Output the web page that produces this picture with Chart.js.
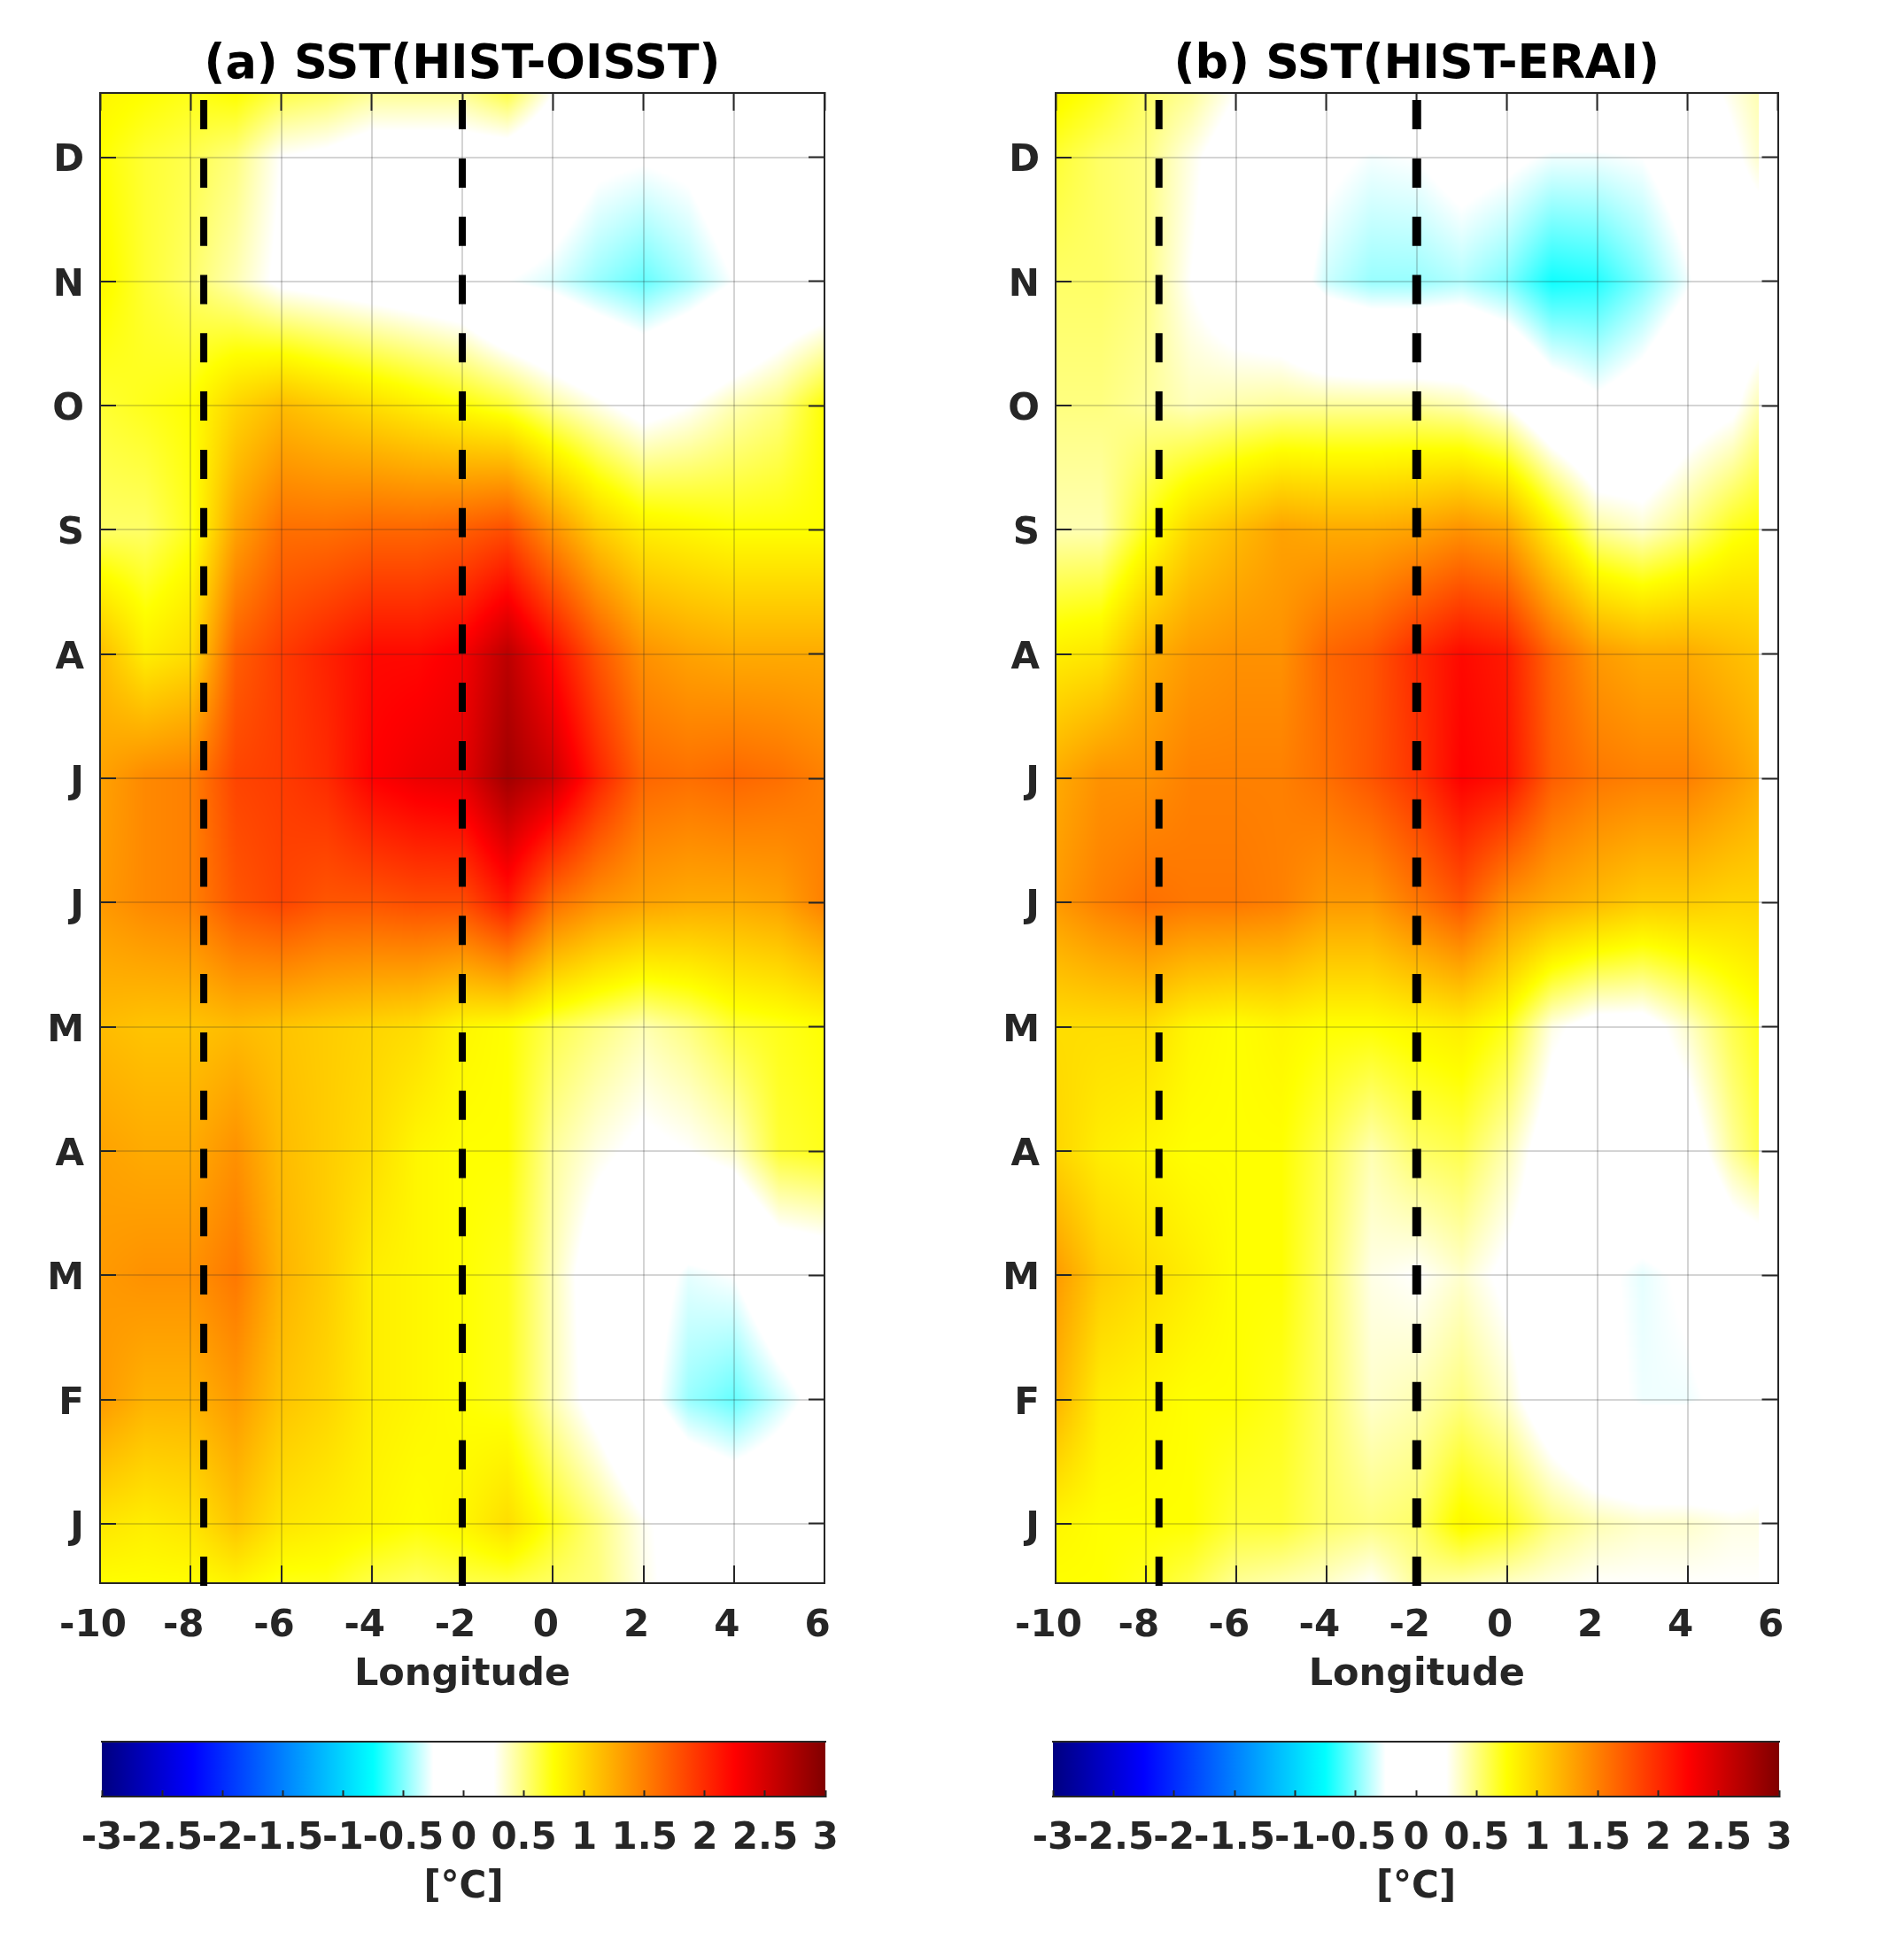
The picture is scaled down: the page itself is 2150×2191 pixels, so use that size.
<!DOCTYPE html>
<html>
<head>
<meta charset="utf-8">
<title>SST bias</title>
<script src="https://cdn.jsdelivr.net/npm/chart.js@4"></script>
<style>
  html, body { margin: 0; background: #fff; }
  #page { position: relative; width: 2150px; height: 2191px; overflow: hidden; }
  canvas { position: absolute; }
</style>
</head>
<body>
<div id="page">
  <canvas id="heatA" width="1075" height="1950" style="left:0;top:0"></canvas>
  <canvas id="heatB" width="1075" height="1950" style="left:1075px;top:0"></canvas>
  <canvas id="barA" width="1075" height="241" style="left:0;top:1950px"></canvas>
  <canvas id="barB" width="1075" height="241" style="left:1075px;top:1950px"></canvas>
</div>
<script>
const lonTicks = [-10, -8, -6, -4, -2, 0, 2, 4, 6];
const monthTicks = [1, 2, 3, 4, 5, 6, 7, 8, 9, 10, 11, 12];
const monthLabels = ['J', 'F', 'M', 'A', 'M', 'J', 'J', 'A', 'S', 'O', 'N', 'D'];
const cbarTicks = [-3, -2.5, -2, -1.5, -1, -0.5, 0, 0.5, 1, 1.5, 2, 2.5, 3];
const dashedLons = [-7.71, -2];

const monthGrid = [0.5, 1, 2, 3, 4, 5, 6, 7, 8, 9, 10, 11, 12, 12.5];
const lonGridA = [-10, -9, -8, -7, -6, -5, -4, -3, -2, -1, 0, 1, 2, 3, 4, 5, 6];
const lonGridB = [-10, -9, -8, -7, -6, -5, -4, -3, -2, -1, 0, 1, 2, 3, 4, 5, 5.57];

// rows go bottom to top, same order as monthGrid
const sstA = [
  [.75, .75, .75, .8, .7, .7, .6, .55, .6, .6, .55, .5, .3, .15, .05, .05, .1],
  [.9, .85, .9, 1.1, .9, .85, .8, .75, .8, .95, .7, .5, .28, .15, .05, .05, .1],
  [1.35, 1.2, 1.2, 1.35, 1.1, 1, .85, .8, .75, .7, .4, .15, -.15, -.45, -.55, -.35, -.15],
  [1.35, 1.4, 1.4, 1.55, 1.2, 1.05, .85, .8, .75, .7, .4, .1, -.1, -.3, -.25, 0, .05],
  [1.3, 1.25, 1.25, 1.4, 1.15, 1.05, .95, .8, .75, .75, .45, .3, .2, .25, .35, .65, .7],
  [1.15, 1.1, 1.1, 1.15, 1.1, 1.05, 1, .95, .8, .75, .6, .5, .4, .5, .65, .7, .75],
  [1.35, 1.45, 1.5, 1.75, 1.85, 1.75, 1.75, 1.8, 1.8, 2.1, 1.6, 1.4, 1.3, 1.25, 1.25, 1.3, 1.5],
  [1.3, 1.45, 1.5, 1.85, 1.9, 2, 2.25, 2.35, 2.4, 2.8, 2.55, 2.05, 1.65, 1.6, 1.65, 1.6, 1.5],
  [1.15, .85, .95, 1.7, 1.9, 2.05, 2.2, 2.2, 2.3, 2.65, 2.2, 1.75, 1.4, 1.3, 1.25, 1.25, 1.25],
  [.55, .55, .7, 1.3, 1.6, 1.6, 1.65, 1.65, 1.7, 1.8, 1.4, 1.05, .85, .8, .75, .75, .75],
  [.65, .7, .75, 1, 1.15, 1.05, .95, .85, .75, .65, .45, .3, .15, .25, .4, .5, .75],
  [.8, .65, .55, .4, .2, .15, .1, .05, 0, -.25, -.32, -.45, -.55, -.42, -.25, -.05, 0],
  [.75, .65, .6, .5, .25, .2, .1, .1, .1, .1, -.05, -.2, -.23, -.2, -.05, 0, 0],
  [.8, .75, .7, .75, .6, .55, .45, .45, .45, .6, .25, .2, .1, .1, .1, .1, .1]
];
const sstB = [
  [.75, .75, .7, .6, .45, .4, .35, .25, .45, .4, .35, .3, .25, .25, .25, .25, .25],
  [.8, .75, .75, .75, .65, .65, .55, .5, .55, .8, .7, .5, .4, .35, .35, .3, .3],
  [1.2, .85, .8, .75, .75, .7, .55, .35, .4, .5, .35, .05, -.18, -.28, -.28, -.2, 0],
  [1.35, 1.05, .95, .85, .75, .75, .55, .3, .25, .35, .2, .05, -.2, -.3, -.22, 0, 0],
  [1, .85, .8, .75, .75, .75, .6, .4, .55, .6, .4, .1, .05, .05, .1, .45, .6],
  [.95, .95, .95, .8, .75, .8, .75, .75, .8, .85, .7, .3, .15, .15, .35, .6, .7],
  [1.35, 1.5, 1.6, 1.55, 1.55, 1.5, 1.35, 1.35, 1.55, 1.75, 1.4, 1.25, 1.15, 1.05, 1.05, 1, 1],
  [1.25, 1.4, 1.4, 1.5, 1.5, 1.5, 1.6, 1.75, 1.95, 2.25, 2.15, 1.7, 1.55, 1.5, 1.5, 1.35, 1.25],
  [.85, .9, 1.2, 1.35, 1.4, 1.4, 1.65, 1.75, 2, 2.2, 2.1, 1.65, 1.35, 1.25, 1.25, 1.15, 1.1],
  [.4, .4, .7, 1, 1.15, 1.3, 1.25, 1.25, 1.3, 1.4, 1.3, .85, .45, .35, .5, .7, .75],
  [.5, .5, .45, .38, .42, .45, .45, .45, .45, .4, .25, -.05, -.2, -.1, .1, .2, .4],
  [.55, .55, .5, .25, .05, -.05, -.35, -.45, -.45, -.4, -.5, -.72, -.68, -.5, -.28, 0, 0],
  [.65, .55, .5, .3, .1, .05, -.2, -.27, -.25, -.15, -.2, -.28, -.28, -.25, -.1, .2, .35],
  [.8, .7, .55, .45, .25, .1, .05, .05, .1, .05, .05, .05, .05, 0, .1, .3, .4]
];

// colormap: jet with a white middle
const cmapValues = [-3, -2.25, -1.5, -0.75, -0.25, 0.25, 0.75, 1.5, 2.25, 3];
const cmapColors = [[0, 0, 128], [0, 0, 255], [0, 128, 255], [0, 255, 255], [255, 255, 255],
  [255, 255, 255], [255, 255, 0], [255, 128, 0], [255, 0, 0], [128, 0, 0]];

const FONT = "'DejaVu Sans'";
const INK = '#262626';

function colorFor(v) {
  if (v <= cmapValues[0]) return cmapColors[0];
  for (let i = 1; i < cmapValues.length; i++) {
    if (v <= cmapValues[i]) {
      const t = (v - cmapValues[i - 1]) / (cmapValues[i] - cmapValues[i - 1]);
      const a = cmapColors[i - 1], b = cmapColors[i];
      return [a[0] + (b[0] - a[0]) * t, a[1] + (b[1] - a[1]) * t, a[2] + (b[2] - a[2]) * t];
    }
  }
  return cmapColors[cmapColors.length - 1];
}

function cellOf(grid, v) {
  if (v <= grid[0]) return [0, 0];
  for (let i = 1; i < grid.length; i++) {
    if (v <= grid[i]) return [i - 1, (v - grid[i - 1]) / (grid[i] - grid[i - 1])];
  }
  return [grid.length - 2, 1];
}

// paints the field under the grid lines, shaded between grid nodes
const heatPlugin = {
  id: 'heat',
  beforeDraw(chart, args, opts) {
    const { left, top, width, height } = chart.chartArea;
    const w = Math.round(width), h = Math.round(height);
    const off = document.createElement('canvas');
    off.width = w; off.height = h;
    const octx = off.getContext('2d');
    const img = octx.createImageData(w, h);
    const lons = opts.lons, rows = opts.rows;
    const lonMax = lons[lons.length - 1];
    const xCells = [];
    for (let px = 0; px < w; px++) {
      const lon = chart.scales.x.getValueForPixel(left + px + 0.5);
      xCells.push(lon > lonMax ? null : cellOf(lons, lon));
    }
    for (let py = 0; py < h; py++) {
      const [r, fy] = cellOf(monthGrid, chart.scales.y.getValueForPixel(top + py + 0.5));
      for (let px = 0; px < w; px++) {
        if (!xCells[px]) continue;
        const [c, fx] = xCells[px];
        const low = rows[r][c] * (1 - fx) + rows[r][c + 1] * fx;
        const up = rows[r + 1][c] * (1 - fx) + rows[r + 1][c + 1] * fx;
        const rgb = colorFor(low * (1 - fy) + up * fy);
        const k = (py * w + px) * 4;
        img.data[k] = rgb[0]; img.data[k + 1] = rgb[1]; img.data[k + 2] = rgb[2]; img.data[k + 3] = 255;
      }
    }
    octx.putImageData(img, 0, 0);
    chart.ctx.drawImage(off, left, top);
  }
};

const cbarPlugin = {
  id: 'cbar',
  beforeDraw(chart) {
    const { left, right, top, bottom } = chart.chartArea;
    const x = chart.scales.x;
    const g = chart.ctx.createLinearGradient(x.getPixelForValue(-3), 0, x.getPixelForValue(3), 0);
    cmapValues.forEach((v, i) => {
      g.addColorStop((v + 3) / 6, `rgb(${cmapColors[i].join(',')})`);
    });
    chart.ctx.fillStyle = g;
    chart.ctx.fillRect(left, top, right - left, bottom - top);
  }
};

const zeroWidth = s => { s.width = 0; };
const zeroHeight = s => { s.height = 0; };
const setTicks = list => s => { s.ticks = list.map(v => ({ value: v })); };
const tickFont = { family: FONT, size: 42, weight: 'bold' };
const titleFont = { family: FONT, size: 43, weight: 'bold' };

function frameGrid(len) {
  return { drawOnChartArea: false, tickLength: -len, tickWidth: 2, tickColor: INK };
}

function drawPanel(id, titleText, lons, rows, pad, dashWidths) {
  new Chart(document.getElementById(id), {
    type: 'scatter',
    data: {
      datasets: dashedLons.map((lon, i) => ({
        data: [{ x: lon, y: 0.5 }, { x: lon, y: 12.517 }],
        showLine: true,
        pointRadius: 0,
        borderColor: '#000',
        borderWidth: dashWidths[i],
        borderDash: [33, 32.8],
        clip: false
      }))
    },
    options: {
      responsive: false,
      animation: false,
      devicePixelRatio: 1,
      layout: { autoPadding: false, padding: { left: 0, right: pad.right, top: 45, bottom: 32 } },
      plugins: {
        legend: { display: false },
        tooltip: { enabled: false },
        title: {
          display: true, text: titleText, color: '#000', fullSize: false,
          font: { family: FONT, size: 52.5, weight: 'bold', lineHeight: 1.1 },
          padding: { top: 0, bottom: 2.25 }
        },
        heat: { lons, rows }
      },
      scales: {
        x: {
          type: 'linear', min: -10, max: 6, position: 'bottom',
          afterBuildTicks: setTicks(lonTicks),
          afterFit: s => { s.height = 130; },
          border: { color: INK, width: 2 },
          grid: { color: 'rgba(38,38,38,0.2)', lineWidth: 2, tickLength: -20, tickWidth: 2, tickColor: INK },
          ticks: { color: INK, font: tickFont, padding: 44, labelOffset: -8, autoSkip: false, maxRotation: 0, minRotation: 0 },
          title: { display: true, text: 'Longitude', color: INK, font: titleFont, padding: 0 }
        },
        y: {
          type: 'linear', min: 0.522, max: 12.517, position: 'left',
          afterBuildTicks: setTicks(monthTicks),
          afterFit: s => { s.width = pad.left; },
          border: { color: INK, width: 2 },
          grid: { color: 'rgba(38,38,38,0.2)', lineWidth: 2, tickLength: -18, tickWidth: 2, tickColor: INK },
          ticks: { color: INK, font: tickFont, padding: 36, labelOffset: 5, autoSkip: false, callback: v => monthLabels[v - 1] }
        },
        x2: {
          axis: 'x', type: 'linear', min: -10, max: 6, position: 'top',
          afterBuildTicks: setTicks(lonTicks),
          afterFit: zeroHeight,
          border: { color: INK, width: 2 },
          grid: frameGrid(20),
          ticks: { display: false }
        },
        y2: {
          axis: 'y', type: 'linear', min: 0.522, max: 12.517, position: 'right',
          afterBuildTicks: setTicks(monthTicks),
          afterFit: zeroWidth,
          border: { color: INK, width: 2 },
          grid: frameGrid(18),
          ticks: { display: false }
        }
      }
    },
    plugins: [heatPlugin]
  });
}

function drawColorbar(id, pad) {
  new Chart(document.getElementById(id), {
    type: 'scatter',
    data: { datasets: [] },
    options: {
      responsive: false,
      animation: false,
      devicePixelRatio: 1,
      layout: { autoPadding: false, padding: { left: pad.left, right: pad.right, top: 17, bottom: 34 } },
      plugins: { legend: { display: false }, tooltip: { enabled: false } },
      scales: {
        x: {
          type: 'linear', min: -3, max: 3, position: 'bottom',
          afterBuildTicks: setTicks(cbarTicks),
          afterFit: s => { s.height = 128; },
          border: { color: INK, width: 2 },
          grid: frameGrid(7),
          ticks: { color: INK, font: tickFont, padding: 30, autoSkip: false, maxRotation: 0, minRotation: 0, callback: v => String(v) },
          title: { display: true, text: '[°C]', color: INK, font: tickFont, padding: 0 }
        },
        x2: {
          axis: 'x', type: 'linear', min: -3, max: 3, position: 'top',
          afterFit: zeroHeight,
          border: { color: INK, width: 2 },
          grid: { display: false },
          ticks: { display: false }
        },
        y: { type: 'linear', min: 0, max: 1, display: false }
      }
    },
    plugins: [cbarPlugin]
  });
}

drawPanel('heatA', '(a) SST(HIST-OISST)', lonGridA, sstA, { left: 113, right: 144 }, [8, 8]);
drawPanel('heatB', '(b) SST(HIST-ERAI)', lonGridB, sstB, { left: 117, right: 142.5 }, [8, 10]);
drawColorbar('barA', { left: 115, right: 143 });
drawColorbar('barB', { left: 114, right: 141 });
</script>
</body>
</html>
